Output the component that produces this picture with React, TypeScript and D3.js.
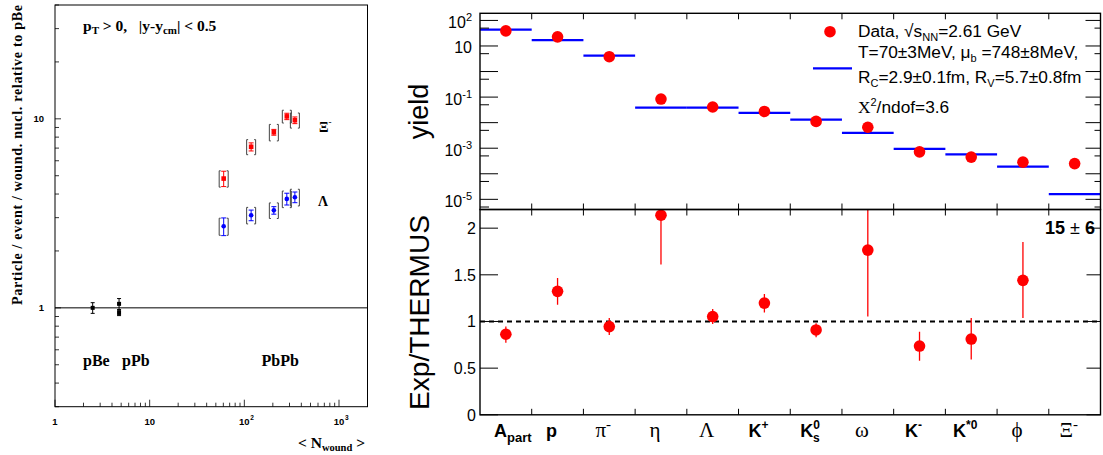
import React from "react";
import * as d3 from "d3";

const SANS = "'Liberation Sans', Arial, Helvetica, sans-serif";
const SERIF = "'Liberation Serif', 'Times New Roman', serif";

// left panel: yield per wounded nucleon relative to pBe
const refNwound = [2.5, 4.75, 4.75];
const refRatio = [1.0, 1.05, 0.94];
const refErr = [0.065, 0.07, 0.03];

const pbNwound = [60.5, 118, 205, 281, 342];
const xiRatio = [4.83, 7.11, 8.49, 10.3, 9.83];
const xiStat = [0.45, 0.35, 0.3, 0.4, 0.4];
const xiSyst = [0.48, 0.65, 0.85, 0.8, 0.9];
const lambdaRatio = [2.7, 3.09, 3.28, 3.77, 3.85];
const lambdaStat = [0.29, 0.2, 0.15, 0.27, 0.25];
const lambdaSyst = [0.28, 0.31, 0.31, 0.38, 0.39];

const nwLabelExps = [0, 1, 2, 3];
const enhLabels = [1, 10];

// right panel: yields vs THERMUS fit
const particles = ["Apart", "p", "pi-", "eta", "Lambda", "K+", "K0s", "omega", "K-", "K*0", "phi", "Xi-"];
const labelMain = ["A", "p", "π", "η", "Λ", "K", "K", "ω", "K", "K", "ϕ", "Ξ"];
const labelSup = ["", "", "-", "", "", "+", "0", "", "-", "*0", "", "-"];
const labelSub = ["part", "", "", "", "", "", "s", "", "", "", "", ""];
const labelGreek = [false, false, true, true, true, false, false, true, false, false, true, true];

const yieldData = [39, 22.8, 3.8, 0.084, 0.041, 0.0275, 0.0112, 0.0066, 7.2e-4, 4.5e-4, 2.85e-4, 2.5e-4];
const yieldModel = [44, 17, 4.2, 0.039, 0.039, 0.024, 0.0131, 0.004, 9.5e-4, 5.7e-4, 1.9e-4, 1.6e-5];

const ratioVal = [0.863, 1.323, 0.945, 2.139, 1.053, 1.197, 0.909, 1.765, 0.737, 0.812, 1.441, null];
const ratioLo = [0.772, 1.179, 0.855, 1.61, 0.974, 1.096, 0.831, 1.053, 0.578, 0.593, 1.036, null];
const ratioHi = [0.945, 1.467, 1.036, 2.67, 1.133, 1.294, 0.982, 2.48, 0.891, 1.036, 1.851, null];

const yieldLabelExps = [2, 1, -1, -3, -5];
const ratioTicks = [0, 0.5, 1, 1.5, 2];

const RED = "#ff0000";
const BLUE = "#0000ff";

const supDigits = (e: number) => (e < 0 ? "-" + Math.abs(e) : String(e));

const App = () => {
  // left frame
  const xL = d3.scaleLog().domain([1, 2000]).range([55, 367.5]);
  const yL = d3.scaleLog().domain([0.3, 40]).range([406.7, 5]);
  // right frames
  const xR = d3.scaleBand().domain(particles).range([480, 1100.5]);
  const yT = d3.scaleLog().domain([4e-6, 190]).range([209.5, 13.3]);
  const yB = d3.scaleLinear().domain([0, 2.2]).range([414.8, 209.5]);

  const [lx0, lx1] = xL.range();
  const [ly1, ly0] = yL.range();
  const [rx0, rx1] = xR.range();
  const rTop = yT.range()[1];
  const rMid = yT.range()[0];
  const rBot = yB.range()[0];
  const bw = xR.bandwidth();

  const xLTicks = d3.range(0, 4).flatMap((e) => d3.range(1, 10).map((k) => ({ v: k * 10 ** e, major: k === 1 }))).filter((t) => t.v <= 2000);
  const yLTicks = d3.range(-1, 2).flatMap((e) => d3.range(1, 10).map((k) => ({ v: k * 10 ** e, major: k === 1 }))).filter((t) => t.v >= 0.29 && t.v <= 40);

  const yTTicks = [
    ...d3.range(-5, 3).map((e) => ({ v: 10 ** e, major: true })),
    ...d3.range(-6, 2).map((e) => ({ v: 5 * 10 ** e, major: false })),
  ];
  const binEdges = d3.range(1, particles.length).map((i) => rx0 + i * bw);

  const bracket = (x: number, yt: number, yb: number, key: string) => (
    <g key={key} stroke="#444" strokeWidth={1} fill="none">
      <path d={`M${x - 3},${yt}H${x - 4.5}V${yb}H${x - 3}`} />
      <path d={`M${x + 3},${yt}H${x + 4.5}V${yb}H${x + 3}`} />
    </g>
  );
  const errBar = (x: number, yt: number, yb: number, color: string, key: string, cap = 2.5) => (
    <g key={key} stroke={color} strokeWidth={1}>
      <line x1={x} x2={x} y1={yt} y2={yb} />
      <line x1={x - cap} x2={x + cap} y1={yt} y2={yt} />
      <line x1={x - cap} x2={x + cap} y1={yb} y2={yb} />
    </g>
  );

  return (
    <svg width={1103} height={455} style={{ position: "absolute", left: 0, top: 0, background: "#fff" }}>
      {/* ================= left panel ================= */}
      <rect x={lx0} y={ly0} width={lx1 - lx0} height={ly1 - ly0} fill="none" stroke="#000" strokeWidth={1} />
      {xLTicks.map((t, i) => (
        <line key={"xlt" + i} x1={xL(t.v)} x2={xL(t.v)} y1={ly1} y2={ly1 - (t.major ? 7 : 4)} stroke="#000" strokeWidth={0.8} />
      ))}
      {yLTicks.map((t, i) => (
        <line key={"ylt" + i} x1={lx0} x2={lx0 + (t.major ? 6 : 4)} y1={yL(t.v)} y2={yL(t.v)} stroke="#000" strokeWidth={0.8} />
      ))}
      {nwLabelExps.map((e) => (
        <g key={"xll" + e} fontFamily={SANS} fontWeight={700} fill="#000">
          <text x={xL(10 ** e)} y={425} fontSize={9.5} textAnchor="middle">
            {e === 0 ? "1" : "10"}
          </text>
          {e > 1 && (
            <text x={xL(10 ** e) + 6} y={420} fontSize={6.5}>
              {e}
            </text>
          )}
        </g>
      ))}
      {enhLabels.map((v) => (
        <text key={"yll" + v} x={44} y={yL(v) + 3.5} fontFamily={SANS} fontWeight={700} fontSize={9.5} textAnchor="end">
          {v}
        </text>
      ))}
      <line x1={lx0} x2={lx1} y1={yL(1)} y2={yL(1)} stroke="#000" strokeWidth={1} />

      <text transform="translate(22,5) rotate(-90)" textAnchor="end" fontFamily={SERIF} fontWeight={700} fontSize={14} textLength={300} lengthAdjust="spacing">
        Particle / event / wound. nucl. relative to pBe
      </text>
      <text x={365} y={448} textAnchor="end" fontFamily={SERIF} fontWeight={700} fontSize={15.5}>
        {"< N"}
        <tspan fontSize={10.5} dy={3}>wound</tspan>
        <tspan dy={-3}>{" >"}</tspan>
      </text>
      <text x={83} y={31} fontFamily={SERIF} fontWeight={700} fontSize={15.5} style={{ whiteSpace: "pre" }}>
        p<tspan fontSize={11} dy={3}>T</tspan>
        <tspan dy={-3}>{" > 0,   |y-y"}</tspan>
        <tspan fontSize={11} dy={3}>cm</tspan>
        <tspan dy={-3}>{"| < 0.5"}</tspan>
      </text>
      <g fontFamily={SERIF} fontWeight={700} fontSize={16}>
        <text x={83} y={365.5}>pBe</text>
        <text x={122} y={365.5}>pPb</text>
        <text x={261.5} y={365.5}>PbPb</text>
      </g>
      <text x={319} y={131.5} fontFamily={SERIF} fontWeight={700} fontSize={14}>
        Ξ<tspan fontSize={9} dy={-7}>-</tspan>
      </text>
      <text x={318} y={206} fontFamily={SERIF} fontWeight={700} fontSize={14}>
        Λ
      </text>

      {refNwound.map((n, i) => (
        <g key={"ref" + i}>
          {errBar(xL(n), yL(refRatio[i] + refErr[i]), yL(refRatio[i] - refErr[i]), "#000", "re" + i, 2)}
          <rect x={xL(n) - 2} y={yL(refRatio[i]) - 2} width={4} height={4} fill="#000" />
        </g>
      ))}
      {pbNwound.map((n, i) => {
        const x = xL(n);
        return (
          <g key={"pb" + i}>
            {bracket(x, yL(xiRatio[i] + xiSyst[i]), yL(xiRatio[i] - xiSyst[i]), "xs" + i)}
            {errBar(x, yL(xiRatio[i] + xiStat[i]), yL(xiRatio[i] - xiStat[i]), RED, "xe" + i, 2.5)}
            <rect x={x - 2.3} y={yL(xiRatio[i]) - 2.3} width={4.6} height={4.6} fill={RED} />
            {bracket(x, yL(lambdaRatio[i] + lambdaSyst[i]), yL(lambdaRatio[i] - lambdaSyst[i]), "ls" + i)}
            {errBar(x, yL(lambdaRatio[i] + lambdaStat[i]), yL(lambdaRatio[i] - lambdaStat[i]), BLUE, "le" + i, 2.5)}
            <circle cx={x} cy={yL(lambdaRatio[i])} r={2.3} fill={BLUE} />
          </g>
        );
      })}

      {/* ================= right panel: yields ================= */}
      {yieldModel.map((v, i) => (
        <line key={"mod" + i} x1={xR(particles[i])!} x2={xR(particles[i])! + bw} y1={yT(v)} y2={yT(v)} stroke={BLUE} strokeWidth={2.2} />
      ))}
      {yieldData.map((v, i) => (
        <circle key={"yd" + i} cx={xR(particles[i])! + bw / 2} cy={yT(v)} r={5.8} fill={RED} />
      ))}
      {yTTicks.map((t, i) => (
        <g key={"ytt" + i} stroke="#000" strokeWidth={1}>
          <line x1={rx0} x2={rx0 + (t.major ? 18 : 9)} y1={yT(t.v)} y2={yT(t.v)} />
          <line x1={rx1} x2={rx1 - (t.major ? 15 : 6)} y1={yT(t.v)} y2={yT(t.v)} />
        </g>
      ))}
      {yieldLabelExps.map((e) => (
        <text key={"ytl" + e} x={472} y={yT(10 ** e) + 7.5} textAnchor="end" fontFamily={SANS} fontSize={16}>
          10
          {e !== 1 && (
            <tspan fontSize={11} dy={-7}>
              {supDigits(e)}
            </tspan>
          )}
        </text>
      ))}
      {binEdges.map((x, i) => (
        <g key={"be" + i} stroke="#000" strokeWidth={1}>
          <line x1={x} x2={x} y1={rTop} y2={rTop + 6} />
          <line x1={x} x2={x} y1={rMid - 6} y2={rMid + 6} />
          <line x1={x} x2={x} y1={rBot} y2={rBot - 6} />
        </g>
      ))}
      <text transform="translate(428,111.5) rotate(-90)" textAnchor="middle" fontFamily={SANS} fontSize={27}>
        yield
      </text>

      {/* legend */}
      <circle cx={830} cy={31.7} r={5.8} fill={RED} />
      <line x1={813} x2={852} y1={68.3} y2={68.3} stroke={BLUE} strokeWidth={2.2} />
      <g fontFamily={SANS} fontSize={17.3} fill="#000" style={{ whiteSpace: "pre" }}>
        <text x={858} y={36.5}>
          Data, √s<tspan fontSize={11} dy={4}>NN</tspan>
          <tspan dy={-4}>=2.61 GeV</tspan>
        </text>
        <text x={858} y={58}>
          T=70±3MeV, μ<tspan fontSize={11} dy={4}>b</tspan>
          <tspan dy={-4}> =748±8MeV,</tspan>
        </text>
        <text x={858} y={83}>
          R<tspan fontSize={11} dy={4}>C</tspan>
          <tspan dy={-4}>=2.9±0.1fm, R</tspan>
          <tspan fontSize={11} dy={4}>V</tspan>
          <tspan dy={-4}>=5.7±0.8fm</tspan>
        </text>
        <text x={858} y={113}>
          <tspan fontFamily={SERIF}>X</tspan>
          <tspan fontSize={11} dy={-7}>2</tspan>
          <tspan dy={7}>/ndof=3.6</tspan>
        </text>
      </g>

      {/* ================= right panel: ratio ================= */}
      <defs>
        <clipPath id="ratioClip">
          <rect x={rx0} y={rMid} width={rx1 - rx0} height={rBot - rMid} />
        </clipPath>
      </defs>
      <line x1={rx0} x2={rx1} y1={yB(1)} y2={yB(1)} stroke="#000" strokeWidth={2} strokeDasharray="5,4" />
      <g clipPath="url(#ratioClip)">
        {ratioVal.map((v, i) =>
          v == null ? null : (
            <g key={"rv" + i}>
              <line x1={xR(particles[i])! + bw / 2} x2={xR(particles[i])! + bw / 2} y1={yB(ratioHi[i]!)} y2={yB(ratioLo[i]!)} stroke={RED} strokeWidth={1.3} />
              <circle cx={xR(particles[i])! + bw / 2} cy={yB(v)} r={5.8} fill={RED} />
            </g>
          )
        )}
      </g>
      {ratioTicks.map((t) => (
        <g key={"rt" + t}>
          <line x1={rx0} x2={rx0 + 18} y1={yB(t)} y2={yB(t)} stroke="#000" strokeWidth={1} />
          <line x1={rx1} x2={rx1 - 14} y1={yB(t)} y2={yB(t)} stroke="#000" strokeWidth={1} />
          <text x={476} y={yB(t) + 6} textAnchor="end" fontFamily={SANS} fontSize={16}>
            {t}
          </text>
        </g>
      ))}
      <text transform="translate(429,312.5) rotate(-90)" textAnchor="middle" fontFamily={SANS} fontSize={27} textLength={195} lengthAdjust="spacingAndGlyphs">
        Exp/THERMUS
      </text>
      <text x={1095} y={234} textAnchor="end" fontFamily={SANS} fontWeight={700} fontSize={18} style={{ whiteSpace: "pre" }}>
        15 <tspan fontWeight={400}>±</tspan> 6
      </text>

      {/* frames */}
      <rect x={rx0} y={rTop} width={rx1 - rx0} height={rMid - rTop} fill="none" stroke="#000" strokeWidth={1.4} />
      <rect x={rx0} y={rMid} width={rx1 - rx0} height={rBot - rMid} fill="none" stroke="#000" strokeWidth={1.4} />

      {/* category labels */}
      {particles.map((p, i) => {
        const greek = labelGreek[i];
        const cx = xR(p)! + bw / 2 + (i === 0 ? 7 : -6);
        const sup = labelSup[i];
        const sub = labelSub[i];
        return (
          <text
            key={"cl" + p}
            x={cx}
            y={437}
            textAnchor="middle"
            fontFamily={greek ? SERIF : SANS}
            fontWeight={greek ? 400 : 700}
            fontSize={greek ? 21 : 18}
          >
            {labelMain[i]}
            {sup && (
              <tspan fontSize={greek ? 15 : 12} dy={-8}>
                {sup}
              </tspan>
            )}
            {sub && (
              <tspan fontSize={sup ? 12 : 13} dx={sup ? -7 : 0} dy={sup ? 13 : 5}>
                {sub}
              </tspan>
            )}
          </text>
        );
      })}
    </svg>
  );
};

export default App;
